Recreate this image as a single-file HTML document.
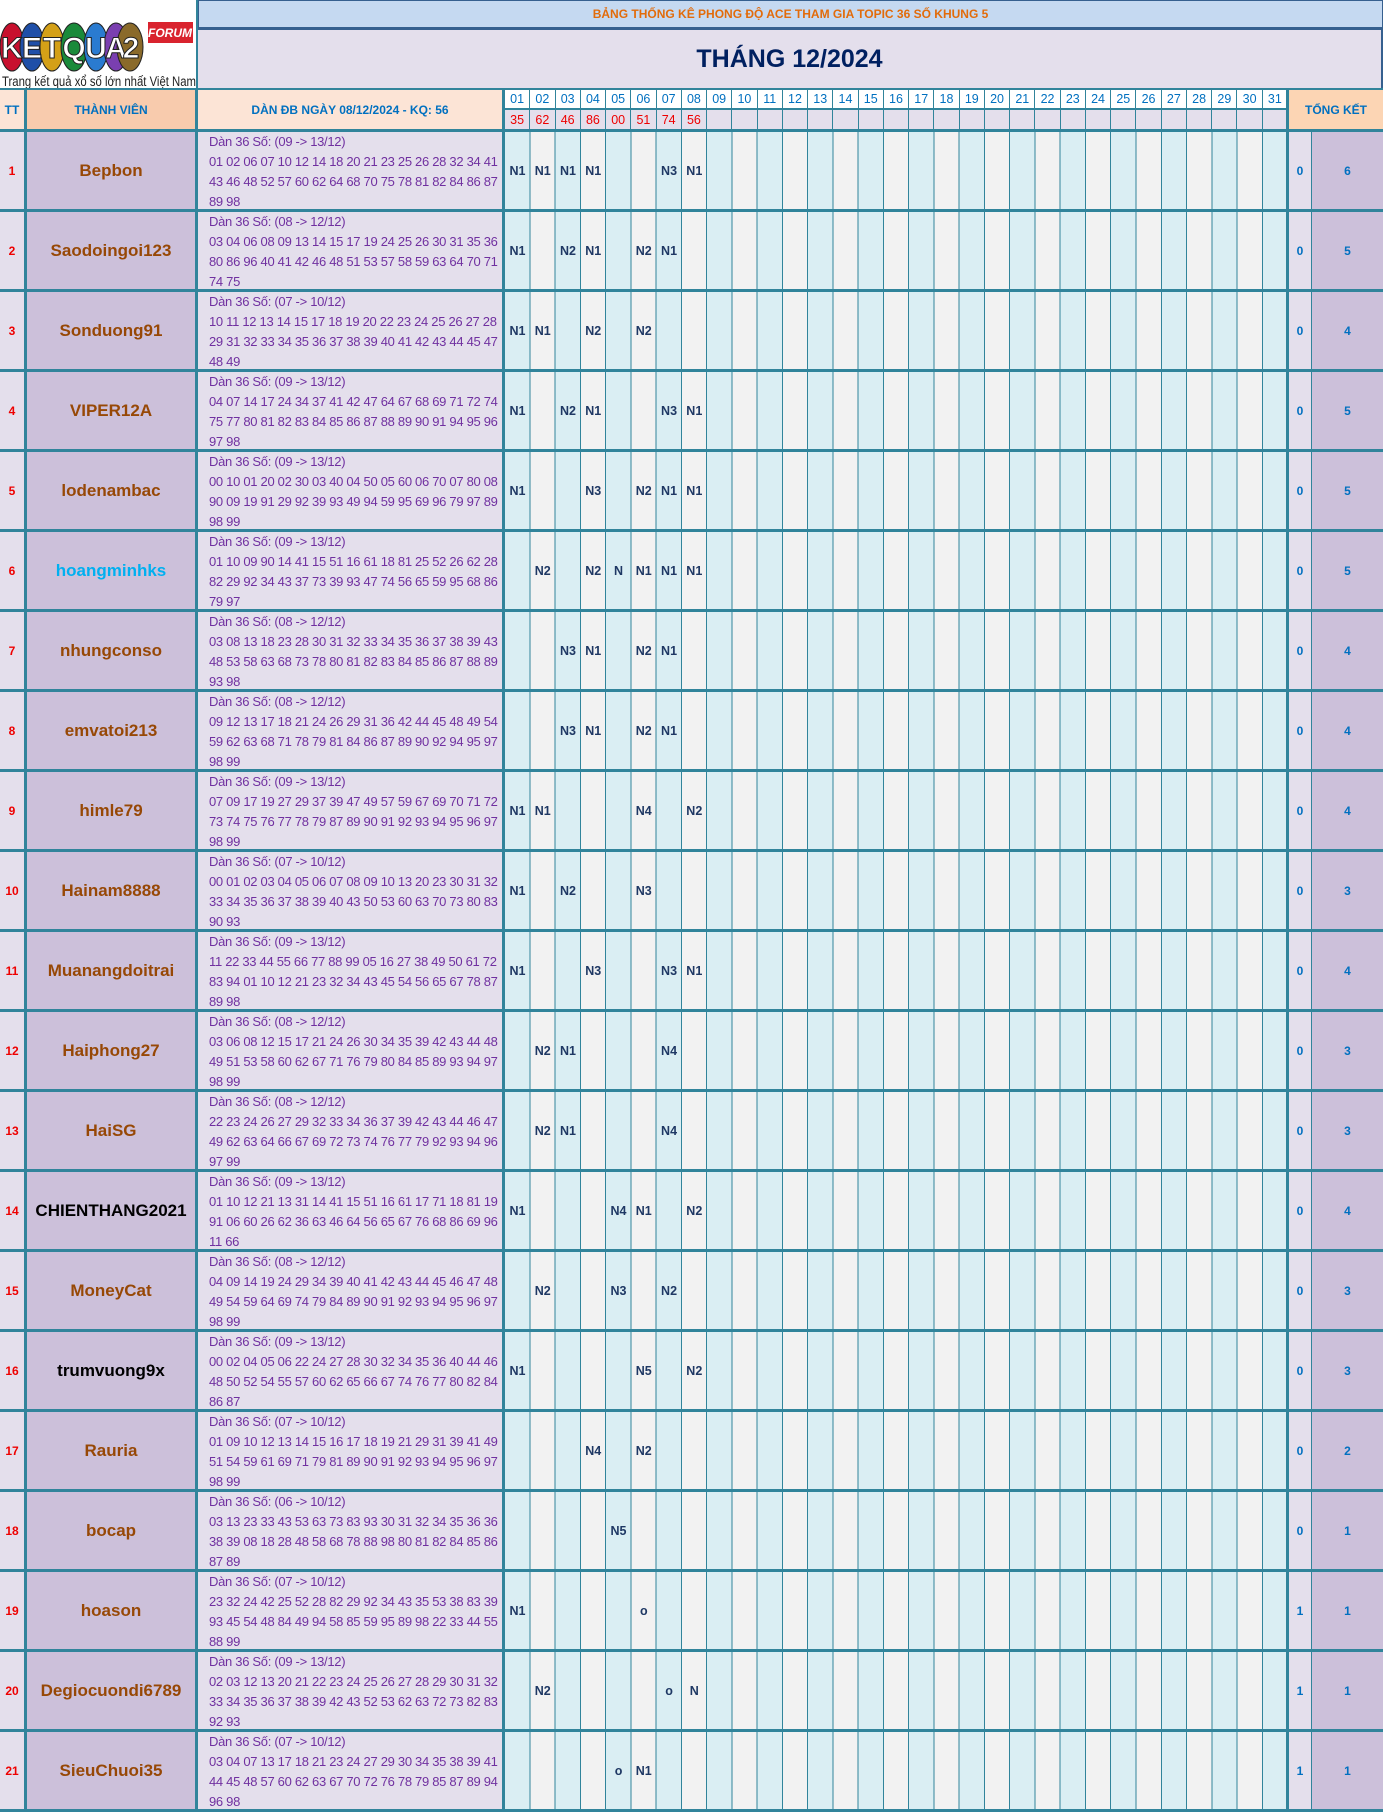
<!DOCTYPE html>
<html><head><meta charset="utf-8">
<style>
*{margin:0;padding:0;box-sizing:border-box}
body{width:1383px;height:1812px;position:relative;background:#fff;font-family:"Liberation Sans",sans-serif;overflow:hidden}
.a{position:absolute}
.r{position:absolute;left:0;width:1383px;height:83px;border-top:3px solid #31849B;border-bottom:3px solid #31849B}
.r>div{position:absolute;top:0;height:77px}
.tt{left:0;width:27px;background:#E4DFEC;border-right:3px solid #31849B;color:#e00;font-weight:bold;font-size:12px;display:flex;align-items:center;justify-content:center}
.mb{left:27px;width:171px;background:#CCC0DA;border-right:3px solid #31849B;color:#974806;font-weight:bold;font-size:17px;display:flex;align-items:center;justify-content:center;white-space:nowrap}
.dn{left:198px;width:307px;background:#E4DFEC;border-right:3px solid #31849B;color:#7030A0;font-size:13px;letter-spacing:-0.3px;line-height:20px;padding-left:11px;white-space:nowrap;overflow:hidden}
.dy{left:505px;width:783px;background:repeating-linear-gradient(to right,#DAEEF3 0,#DAEEF3 24.26px,#31849B 24.26px,#31849B 25.26px,#F2F2F2 25.26px,#F2F2F2 49.52px,#31849B 49.52px,#31849B 50.52px)}
.dy span{position:absolute;top:0;height:77px;width:25px;display:flex;align-items:center;justify-content:center;color:#1F3864;font-weight:bold;font-size:12.5px}
.t1{left:1286px;width:26px;background:#E4DFEC;border-left:3px solid #31849B;border-right:1px solid #31849B;color:#0070C0;font-weight:bold;font-size:12px;display:flex;align-items:center;justify-content:center}
.t2{left:1312px;width:71px;background:#CCC0DA;color:#0070C0;font-weight:bold;font-size:12px;display:flex;align-items:center;justify-content:center}
.hd span{position:absolute;top:0;width:25.26px;height:100%;display:flex;align-items:center;justify-content:center;border-right:1px solid #31849B}
</style></head><body>

<div class="a" style="left:0;top:0;width:198px;height:90px;background:#fff;border-right:2px solid #31849B">
 <svg width="198" height="90" style="position:absolute;left:0;top:0">
  <g font-family="Liberation Sans" font-weight="bold" font-size="30" fill="#fff" stroke="#222" stroke-width="1" text-anchor="middle">
   <ellipse cx="12" cy="47" rx="12" ry="24" fill="#c8102e"/>
   <ellipse cx="32" cy="47" rx="12" ry="24" fill="#1f4fa8"/>
   <ellipse cx="52" cy="47" rx="12" ry="24" fill="#d4a017"/>
   <ellipse cx="74" cy="47" rx="13" ry="24" fill="#1a8a3a"/>
   <ellipse cx="96" cy="47" rx="12" ry="24" fill="#2a7bd0"/>
   <ellipse cx="116" cy="47" rx="12" ry="24" fill="#7a3fb0"/>
   <ellipse cx="130" cy="47" rx="13" ry="24" fill="#8a6a2a"/>
   <text x="12" y="58">K</text><text x="32" y="58">E</text><text x="52" y="58">T</text><text x="74" y="58">Q</text><text x="96" y="58">U</text><text x="116" y="58">A</text><text x="131" y="58">2</text>
  </g>
  <rect x="148" y="22" width="45" height="21" fill="#d9232e"/>
  <text x="170" y="37" font-family="Liberation Sans" font-style="italic" font-weight="bold" font-size="12" fill="#fff" text-anchor="middle">FORUM</text>
  <text x="2" y="86" font-family="Liberation Sans" font-size="13.5" fill="#222" textLength="194" lengthAdjust="spacingAndGlyphs">Trang kết quả xổ số lớn nhất Việt Nam</text>
 </svg>
</div>
<div class="a" style="left:198px;top:0;width:1185px;height:30px;background:#C5D9F1;border:1px solid #36608F;border-bottom:3px solid #36608F;display:flex;align-items:center;justify-content:center;color:#E26B0A;font-weight:bold;font-size:12px">BẢNG THỐNG KÊ PHONG ĐỘ ACE THAM GIA TOPIC 36 SỐ KHUNG 5</div>
<div class="a" style="left:198px;top:30px;width:1185px;height:58px;background:#E4DFEC;border-right:2px solid #36608F;display:flex;align-items:center;justify-content:center;color:#002060;font-weight:bold;font-size:25px">THÁNG 12/2024</div>

<div class="a" style="left:0;top:88px;width:27px;height:42px;background:#FCE4D6;border-right:3px solid #31849B;border-top:2px solid #31849B;color:#0070C0;font-weight:bold;font-size:12px;display:flex;align-items:center;justify-content:center">TT</div>
<div class="a" style="left:27px;top:88px;width:171px;height:42px;background:#F8CBAD;border-right:3px solid #31849B;border-top:2px solid #31849B;color:#0070C0;font-weight:bold;font-size:12px;display:flex;align-items:center;justify-content:center">THÀNH VIÊN</div>
<div class="a" style="left:198px;top:88px;width:307px;height:42px;background:#FCE4D6;border-right:3px solid #31849B;border-top:2px solid #31849B;color:#0070C0;font-weight:bold;font-size:12px;display:flex;align-items:center;justify-content:center">DÀN ĐB NGÀY 08/12/2024 - KQ: 56</div>
<div class="a hd" style="left:505px;top:88px;width:783px;height:22px;background:#fff;border-top:2px solid #31849B;border-bottom:2px solid #31849B;color:#0070C0;font-size:12.5px">
<span style="left:0px">01</span><span style="left:25.26px">02</span><span style="left:50.52px">03</span><span style="left:75.77px">04</span><span style="left:101.03px">05</span><span style="left:126.29px">06</span><span style="left:151.55px">07</span><span style="left:176.81px">08</span><span style="left:202.06px">09</span><span style="left:227.32px">10</span><span style="left:252.58px">11</span><span style="left:277.84px">12</span><span style="left:303.1px">13</span><span style="left:328.35px">14</span><span style="left:353.61px">15</span><span style="left:378.87px">16</span><span style="left:404.13px">17</span><span style="left:429.39px">18</span><span style="left:454.65px">19</span><span style="left:479.9px">20</span><span style="left:505.16px">21</span><span style="left:530.42px">22</span><span style="left:555.68px">23</span><span style="left:580.94px">24</span><span style="left:606.19px">25</span><span style="left:631.45px">26</span><span style="left:656.71px">27</span><span style="left:681.97px">28</span><span style="left:707.23px">29</span><span style="left:732.48px">30</span><span style="left:757.74px">31</span>
</div>
<div class="a hd" style="left:505px;top:110px;width:783px;height:20px;background:#E4DFEC;color:#e00;font-size:12.5px">
<span style="left:0px">35</span><span style="left:25.26px">62</span><span style="left:50.52px">46</span><span style="left:75.77px">86</span><span style="left:101.03px">00</span><span style="left:126.29px">51</span><span style="left:151.55px">74</span><span style="left:176.81px">56</span><span style="left:202.06px"></span><span style="left:227.32px"></span><span style="left:252.58px"></span><span style="left:277.84px"></span><span style="left:303.1px"></span><span style="left:328.35px"></span><span style="left:353.61px"></span><span style="left:378.87px"></span><span style="left:404.13px"></span><span style="left:429.39px"></span><span style="left:454.65px"></span><span style="left:479.9px"></span><span style="left:505.16px"></span><span style="left:530.42px"></span><span style="left:555.68px"></span><span style="left:580.94px"></span><span style="left:606.19px"></span><span style="left:631.45px"></span><span style="left:656.71px"></span><span style="left:681.97px"></span><span style="left:707.23px"></span><span style="left:732.48px"></span><span style="left:757.74px"></span>
</div>
<div class="a" style="left:1286px;top:88px;width:97px;height:42px;background:#FCD5B4;border-left:3px solid #31849B;border-top:2px solid #31849B;color:#0070C0;font-weight:bold;font-size:12px;display:flex;align-items:center;justify-content:center">TỔNG KẾT</div>

<div class="r" style="top:129px"><div class="tt">1</div><div class="mb">Bepbon</div><div class="dn">Dàn 36 Số: (09 -&gt; 13/12)<br>01 02 06 07 10 12 14 18 20 21 23 25 26 28 32 34 41<br>43 46 48 52 57 60 62 64 68 70 75 78 81 82 84 86 87<br>89 98</div><div class="dy"><span style="left:0px">N1</span><span style="left:25.26px">N1</span><span style="left:50.52px">N1</span><span style="left:75.77px">N1</span><span style="left:151.55px">N3</span><span style="left:176.81px">N1</span></div><div class="t1">0</div><div class="t2">6</div></div>

<div class="r" style="top:209px"><div class="tt">2</div><div class="mb">Saodoingoi123</div><div class="dn">Dàn 36 Số: (08 -&gt; 12/12)<br>03 04 06 08 09 13 14 15 17 19 24 25 26 30 31 35 36<br>80 86 96 40 41 42 46 48 51 53 57 58 59 63 64 70 71<br>74 75</div><div class="dy"><span style="left:0px">N1</span><span style="left:50.52px">N2</span><span style="left:75.77px">N1</span><span style="left:126.29px">N2</span><span style="left:151.55px">N1</span></div><div class="t1">0</div><div class="t2">5</div></div>

<div class="r" style="top:289px"><div class="tt">3</div><div class="mb">Sonduong91</div><div class="dn">Dàn 36 Số: (07 -&gt; 10/12)<br>10 11 12 13 14 15 17 18 19 20 22 23 24 25 26 27 28<br>29 31 32 33 34 35 36 37 38 39 40 41 42 43 44 45 47<br>48 49</div><div class="dy"><span style="left:0px">N1</span><span style="left:25.26px">N1</span><span style="left:75.77px">N2</span><span style="left:126.29px">N2</span></div><div class="t1">0</div><div class="t2">4</div></div>

<div class="r" style="top:369px"><div class="tt">4</div><div class="mb">VIPER12A</div><div class="dn">Dàn 36 Số: (09 -&gt; 13/12)<br>04 07 14 17 24 34 37 41 42 47 64 67 68 69 71 72 74<br>75 77 80 81 82 83 84 85 86 87 88 89 90 91 94 95 96<br>97 98</div><div class="dy"><span style="left:0px">N1</span><span style="left:50.52px">N2</span><span style="left:75.77px">N1</span><span style="left:151.55px">N3</span><span style="left:176.81px">N1</span></div><div class="t1">0</div><div class="t2">5</div></div>

<div class="r" style="top:449px"><div class="tt">5</div><div class="mb">lodenambac</div><div class="dn">Dàn 36 Số: (09 -&gt; 13/12)<br>00 10 01 20 02 30 03 40 04 50 05 60 06 70 07 80 08<br>90 09 19 91 29 92 39 93 49 94 59 95 69 96 79 97 89<br>98 99</div><div class="dy"><span style="left:0px">N1</span><span style="left:75.77px">N3</span><span style="left:126.29px">N2</span><span style="left:151.55px">N1</span><span style="left:176.81px">N1</span></div><div class="t1">0</div><div class="t2">5</div></div>

<div class="r" style="top:529px"><div class="tt">6</div><div class="mb" style="color:#00B0F0">hoangminhks</div><div class="dn">Dàn 36 Số: (09 -&gt; 13/12)<br>01 10 09 90 14 41 15 51 16 61 18 81 25 52 26 62 28<br>82 29 92 34 43 37 73 39 93 47 74 56 65 59 95 68 86<br>79 97</div><div class="dy"><span style="left:25.26px">N2</span><span style="left:75.77px">N2</span><span style="left:101.03px">N</span><span style="left:126.29px">N1</span><span style="left:151.55px">N1</span><span style="left:176.81px">N1</span></div><div class="t1">0</div><div class="t2">5</div></div>

<div class="r" style="top:609px"><div class="tt">7</div><div class="mb">nhungconso</div><div class="dn">Dàn 36 Số: (08 -&gt; 12/12)<br>03 08 13 18 23 28 30 31 32 33 34 35 36 37 38 39 43<br>48 53 58 63 68 73 78 80 81 82 83 84 85 86 87 88 89<br>93 98</div><div class="dy"><span style="left:50.52px">N3</span><span style="left:75.77px">N1</span><span style="left:126.29px">N2</span><span style="left:151.55px">N1</span></div><div class="t1">0</div><div class="t2">4</div></div>

<div class="r" style="top:689px"><div class="tt">8</div><div class="mb">emvatoi213</div><div class="dn">Dàn 36 Số: (08 -&gt; 12/12)<br>09 12 13 17 18 21 24 26 29 31 36 42 44 45 48 49 54<br>59 62 63 68 71 78 79 81 84 86 87 89 90 92 94 95 97<br>98 99</div><div class="dy"><span style="left:50.52px">N3</span><span style="left:75.77px">N1</span><span style="left:126.29px">N2</span><span style="left:151.55px">N1</span></div><div class="t1">0</div><div class="t2">4</div></div>

<div class="r" style="top:769px"><div class="tt">9</div><div class="mb">himle79</div><div class="dn">Dàn 36 Số: (09 -&gt; 13/12)<br>07 09 17 19 27 29 37 39 47 49 57 59 67 69 70 71 72<br>73 74 75 76 77 78 79 87 89 90 91 92 93 94 95 96 97<br>98 99</div><div class="dy"><span style="left:0px">N1</span><span style="left:25.26px">N1</span><span style="left:126.29px">N4</span><span style="left:176.81px">N2</span></div><div class="t1">0</div><div class="t2">4</div></div>

<div class="r" style="top:849px"><div class="tt">10</div><div class="mb">Hainam8888</div><div class="dn">Dàn 36 Số: (07 -&gt; 10/12)<br>00 01 02 03 04 05 06 07 08 09 10 13 20 23 30 31 32<br>33 34 35 36 37 38 39 40 43 50 53 60 63 70 73 80 83<br>90 93</div><div class="dy"><span style="left:0px">N1</span><span style="left:50.52px">N2</span><span style="left:126.29px">N3</span></div><div class="t1">0</div><div class="t2">3</div></div>

<div class="r" style="top:929px"><div class="tt">11</div><div class="mb">Muanangdoitrai</div><div class="dn">Dàn 36 Số: (09 -&gt; 13/12)<br>11 22 33 44 55 66 77 88 99 05 16 27 38 49 50 61 72<br>83 94 01 10 12 21 23 32 34 43 45 54 56 65 67 78 87<br>89 98</div><div class="dy"><span style="left:0px">N1</span><span style="left:75.77px">N3</span><span style="left:151.55px">N3</span><span style="left:176.81px">N1</span></div><div class="t1">0</div><div class="t2">4</div></div>

<div class="r" style="top:1009px"><div class="tt">12</div><div class="mb">Haiphong27</div><div class="dn">Dàn 36 Số: (08 -&gt; 12/12)<br>03 06 08 12 15 17 21 24 26 30 34 35 39 42 43 44 48<br>49 51 53 58 60 62 67 71 76 79 80 84 85 89 93 94 97<br>98 99</div><div class="dy"><span style="left:25.26px">N2</span><span style="left:50.52px">N1</span><span style="left:151.55px">N4</span></div><div class="t1">0</div><div class="t2">3</div></div>

<div class="r" style="top:1089px"><div class="tt">13</div><div class="mb">HaiSG</div><div class="dn">Dàn 36 Số: (08 -&gt; 12/12)<br>22 23 24 26 27 29 32 33 34 36 37 39 42 43 44 46 47<br>49 62 63 64 66 67 69 72 73 74 76 77 79 92 93 94 96<br>97 99</div><div class="dy"><span style="left:25.26px">N2</span><span style="left:50.52px">N1</span><span style="left:151.55px">N4</span></div><div class="t1">0</div><div class="t2">3</div></div>

<div class="r" style="top:1169px"><div class="tt">14</div><div class="mb" style="color:#000">CHIENTHANG2021</div><div class="dn">Dàn 36 Số: (09 -&gt; 13/12)<br>01 10 12 21 13 31 14 41 15 51 16 61 17 71 18 81 19<br>91 06 60 26 62 36 63 46 64 56 65 67 76 68 86 69 96<br>11 66</div><div class="dy"><span style="left:0px">N1</span><span style="left:101.03px">N4</span><span style="left:126.29px">N1</span><span style="left:176.81px">N2</span></div><div class="t1">0</div><div class="t2">4</div></div>

<div class="r" style="top:1249px"><div class="tt">15</div><div class="mb">MoneyCat</div><div class="dn">Dàn 36 Số: (08 -&gt; 12/12)<br>04 09 14 19 24 29 34 39 40 41 42 43 44 45 46 47 48<br>49 54 59 64 69 74 79 84 89 90 91 92 93 94 95 96 97<br>98 99</div><div class="dy"><span style="left:25.26px">N2</span><span style="left:101.03px">N3</span><span style="left:151.55px">N2</span></div><div class="t1">0</div><div class="t2">3</div></div>

<div class="r" style="top:1329px"><div class="tt">16</div><div class="mb" style="color:#000">trumvuong9x</div><div class="dn">Dàn 36 Số: (09 -&gt; 13/12)<br>00 02 04 05 06 22 24 27 28 30 32 34 35 36 40 44 46<br>48 50 52 54 55 57 60 62 65 66 67 74 76 77 80 82 84<br>86 87</div><div class="dy"><span style="left:0px">N1</span><span style="left:126.29px">N5</span><span style="left:176.81px">N2</span></div><div class="t1">0</div><div class="t2">3</div></div>

<div class="r" style="top:1409px"><div class="tt">17</div><div class="mb">Rauria</div><div class="dn">Dàn 36 Số: (07 -&gt; 10/12)<br>01 09 10 12 13 14 15 16 17 18 19 21 29 31 39 41 49<br>51 54 59 61 69 71 79 81 89 90 91 92 93 94 95 96 97<br>98 99</div><div class="dy"><span style="left:75.77px">N4</span><span style="left:126.29px">N2</span></div><div class="t1">0</div><div class="t2">2</div></div>

<div class="r" style="top:1489px"><div class="tt">18</div><div class="mb">bocap</div><div class="dn">Dàn 36 Số: (06 -&gt; 10/12)<br>03 13 23 33 43 53 63 73 83 93 30 31 32 34 35 36 36<br>38 39 08 18 28 48 58 68 78 88 98 80 81 82 84 85 86<br>87 89</div><div class="dy"><span style="left:101.03px">N5</span></div><div class="t1">0</div><div class="t2">1</div></div>

<div class="r" style="top:1569px"><div class="tt">19</div><div class="mb">hoason</div><div class="dn">Dàn 36 Số: (07 -&gt; 10/12)<br>23 32 24 42 25 52 28 82 29 92 34 43 35 53 38 83 39<br>93 45 54 48 84 49 94 58 85 59 95 89 98 22 33 44 55<br>88 99</div><div class="dy"><span style="left:0px">N1</span><span style="left:126.29px">o</span></div><div class="t1">1</div><div class="t2">1</div></div>

<div class="r" style="top:1649px"><div class="tt">20</div><div class="mb">Degiocuondi6789</div><div class="dn">Dàn 36 Số: (09 -&gt; 13/12)<br>02 03 12 13 20 21 22 23 24 25 26 27 28 29 30 31 32<br>33 34 35 36 37 38 39 42 43 52 53 62 63 72 73 82 83<br>92 93</div><div class="dy"><span style="left:25.26px">N2</span><span style="left:151.55px">o</span><span style="left:176.81px">N</span></div><div class="t1">1</div><div class="t2">1</div></div>

<div class="r" style="top:1729px"><div class="tt">21</div><div class="mb">SieuChuoi35</div><div class="dn">Dàn 36 Số: (07 -&gt; 10/12)<br>03 04 07 13 17 18 21 23 24 27 29 30 34 35 38 39 41<br>44 45 48 57 60 62 63 67 70 72 76 78 79 85 87 89 94<br>96 98</div><div class="dy"><span style="left:101.03px">o</span><span style="left:126.29px">N1</span></div><div class="t1">1</div><div class="t2">1</div></div>

</body></html>
